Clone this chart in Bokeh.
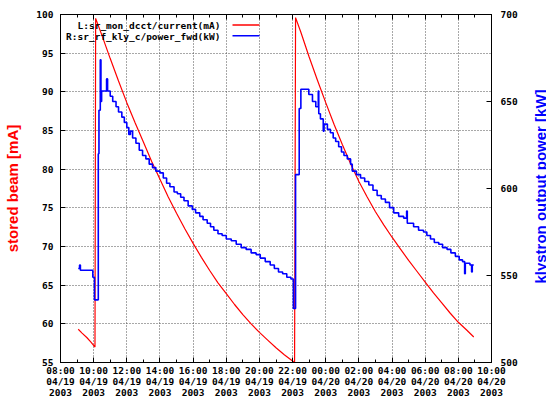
from math import pi
from bokeh.plotting import figure
from bokeh.layouts import row
from bokeh.models import Range1d, LinearAxis, FixedTicker, Label, BoxAnnotation
from bokeh.embed import file_html
from bokeh.resources import INLINE

# time axis: hours since 2003-04-19 08:00
x_tick_hours = [0, 2, 4, 6, 8, 10, 12, 14, 16, 18, 20, 22, 24, 26]
x_tick_labels = ["08:00\n04/19\n2003", "10:00\n04/19\n2003", "12:00\n04/19\n2003",
                 "14:00\n04/19\n2003", "16:00\n04/19\n2003", "18:00\n04/19\n2003",
                 "20:00\n04/19\n2003", "22:00\n04/19\n2003", "00:00\n04/20\n2003",
                 "02:00\n04/20\n2003", "04:00\n04/20\n2003", "06:00\n04/20\n2003",
                 "08:00\n04/20\n2003", "10:00\n04/20\n2003"]
left_ticks = [55, 60, 65, 70, 75, 80, 85, 90, 95, 100]
right_ticks = [500, 550, 600, 650, 700]

legend_current = "L:sr_mon_dcct/current(mA)"
legend_power = "R:sr_rf_kly_c/power_fwd(kW)"
left_title = "stored beam [mA]"
right_title = "klystron output power [kW]"

# stored beam current (mA)
current_hours = [1.07, 1.3, 1.6, 1.85, 2.08, 2.12, 2.5, 3.0, 3.5, 4.0, 4.5, 5.0, 5.5,
                 6.0, 6.5, 7.0, 7.5, 8.0, 8.5, 9.0, 9.5, 10.0, 10.5, 11.0, 11.5, 12.0,
                 12.5, 13.0, 13.5, 14.0, 14.12, 14.18, 14.5, 15.0, 15.5, 16.0, 16.5,
                 17.0, 17.5, 18.0, 18.5, 19.0, 19.5, 20.0, 20.5, 21.0, 21.5, 22.0,
                 22.5, 23.0, 23.5, 24.0, 24.5, 24.93]
current_mA = [59.3, 58.8, 58.2, 57.6, 57.0, 99.5, 97.3, 94.3, 91.4, 88.6, 86.0, 83.5, 81.0,
              78.7, 76.4, 74.3, 72.3, 70.4, 68.6, 66.9, 65.3, 63.9, 62.5, 61.2, 60.0, 58.9,
              57.9, 56.9, 56.0, 55.2, 55.0, 99.6, 97.7, 94.5, 91.5, 88.6, 85.8,
              83.2, 80.7, 78.4, 76.4, 74.5, 72.8, 71.2, 69.7, 68.2, 66.8, 65.4,
              64.0, 62.7, 61.4, 60.2, 59.2, 58.3]

# klystron forward power (kW), stepwise readings
power_hours = [1.07, 1.15, 1.20, 1.95, 2.05, 2.28, 2.32, 2.40, 2.44, 2.48, 2.78, 2.84,
               3.00, 3.15, 3.35, 3.50, 3.70, 3.85, 4.00, 4.12, 4.22, 4.35, 4.55, 4.75,
               4.95, 5.15, 5.35, 5.55, 5.75, 6.00, 6.20, 6.40, 6.60, 6.85, 7.05, 7.25,
               7.45, 7.70, 7.95, 8.15, 8.40, 8.60, 8.85, 9.05, 9.25, 9.50, 9.75, 10.00,
               10.30, 10.60, 10.90, 11.20, 11.50, 11.80, 12.05, 12.35, 12.65, 12.90,
               13.15, 13.40, 13.65, 13.90, 14.05, 14.18, 14.40, 14.50, 14.98, 15.20,
               15.40, 15.55, 15.58, 15.68, 15.85, 15.90, 16.10, 16.28, 16.45, 16.60,
               16.78, 16.95, 17.10, 17.30, 17.50, 17.60, 17.85, 18.10, 18.35, 18.60,
               18.85, 19.10, 19.35, 19.60, 19.85, 20.10, 20.40, 20.70, 20.88, 20.92,
               21.30, 21.60, 21.90, 22.10, 22.32, 22.55, 22.82, 23.05, 23.32, 23.55,
               23.82, 24.05, 24.25, 24.38, 24.42, 24.70, 24.80, 24.84, 24.93]
power_kW = [554, 556, 553, 549, 536, 620, 645, 674, 650, 656, 663, 656,
            653, 650, 647, 644, 641, 638, 635, 631, 633, 629, 626, 622,
            619, 617, 614, 612, 610, 609, 606, 603, 601, 598, 597, 595,
            593, 590, 588, 586, 584, 582, 580, 578, 576, 574, 573, 571,
            570, 568, 566, 565, 563, 562, 560, 558, 556, 554,
            552, 551, 549, 548, 531, 608, 646, 657, 654, 650,
            647, 656, 643, 640, 633, 637, 634, 632, 629, 627,
            624, 621, 619, 617, 614, 610, 608, 606, 604, 602,
            599, 596, 594, 592, 589, 586, 584, 583, 587, 580,
            578, 576, 575, 573, 571, 569, 568, 566, 565, 563,
            561, 559, 558, 551, 557, 556, 552, 556, 556]

MONO = "DejaVu Sans Mono"
SANS = "Liberation Sans"
TICK_SIZE = "9.5px"

W, H = 526, 400
BL, BR, BT, BB = 60, 35, 14, 38
FW, FH = W - BL - BR, H - BT - BB

p = figure(width=W, height=H, output_backend="svg", toolbar_location=None,
           x_range=Range1d(0, 26), y_range=Range1d(55, 100),
           min_border_left=BL, min_border_right=BR, min_border_top=BT, min_border_bottom=BB)
p.extra_y_ranges = {"kw": Range1d(500, 700)}
p.outline_line_color = "black"
p.outline_line_width = 1
p.background_fill_color = "white"
p.border_fill_color = "white"

def style_axis(ax):
    ax.axis_line_color = "black"
    ax.major_tick_line_color = "black"
    ax.minor_tick_line_color = "black"
    ax.major_tick_in = 5
    ax.major_tick_out = 0
    ax.minor_tick_in = 3
    ax.minor_tick_out = 0
    ax.major_label_text_font = MONO
    ax.major_label_text_font_style = "bold"
    ax.major_label_text_font_size = TICK_SIZE
    ax.major_label_text_color = "black"

xa = p.xaxis[0]
xa.ticker = FixedTicker(ticks=x_tick_hours, minor_ticks=list(range(0, 27)))
xa.major_label_overrides = {h: lab for h, lab in zip(x_tick_hours, x_tick_labels)}
style_axis(xa)
xa.major_label_standoff = 2
xa.major_label_text_line_height = 1.0

ya = p.yaxis[0]
ya.ticker = FixedTicker(ticks=left_ticks, minor_ticks=[])
style_axis(ya)
ya.major_label_standoff = 7
ya.axis_label = left_title
ya.axis_label_text_color = "#ff0000"
ya.axis_label_text_font = SANS
ya.axis_label_text_font_style = "bold"
ya.axis_label_text_font_size = "15px"
ya.axis_label_standoff = 12

yr = LinearAxis(y_range_name="kw", ticker=FixedTicker(ticks=right_ticks, minor_ticks=[]))
style_axis(yr)
yr.major_label_standoff = 9
p.add_layout(yr, "right")

xt = LinearAxis(ticker=FixedTicker(ticks=x_tick_hours, minor_ticks=list(range(0, 27))))
style_axis(xt)
xt.major_label_overrides = {h: "" for h in x_tick_hours}
xt.major_label_standoff = 0
p.add_layout(xt, "above")

for g in (p.xgrid[0], p.ygrid[0]):
    g.grid_line_color = "#505050"
    g.grid_line_dash = "1 2"
    g.grid_line_width = 1

p.line(current_hours, current_mA, line_color="#ff0000", line_width=1.2)
p.step(power_hours, power_kW, mode="after", line_color="#0000ff", line_width=1.6,
       y_range_name="kw")

# gnuplot-style key: text right-aligned, sample line to the right
key_rows = [(legend_current, "#ff0000"), (legend_power, "#0000ff")]
for i, (txt, col) in enumerate(key_rows):
    yc = FH - 11.0 - i * 10.6
    p.add_layout(Label(x=160, y=yc, x_units="screen", y_units="screen", text=txt,
                       text_align="right", text_baseline="middle", text_font=MONO,
                       text_font_style="bold", text_font_size=TICK_SIZE, text_color="black"))
    yb = FH - 10.5 - i * 10.8
    p.add_layout(BoxAnnotation(left=172, right=199, bottom=yb - 0.75, top=yb + 0.75,
                               left_units="screen", right_units="screen",
                               bottom_units="screen", top_units="screen",
                               fill_color=col, fill_alpha=1, line_color=None))

# narrow strip carrying the right-hand axis title (reads bottom-to-top)
W2 = 546 - W
p2 = figure(width=W2, height=H, output_backend="svg", toolbar_location=None,
            x_axis_type=None, y_axis_type=None,
            min_border_left=0, min_border_right=0, min_border_top=0, min_border_bottom=0)
p2.outline_line_color = None
p2.background_fill_color = "white"
p2.border_fill_color = "white"
p2.add_layout(Label(x=14, y=H - 224, x_units="screen", y_units="screen",
                    text=right_title, angle=pi / 2, text_align="center",
                    text_baseline="middle", text_font=SANS, text_font_style="bold",
                    text_font_size="15px", text_color="#0000ff"))

layout = row(p, p2, spacing=0)
open("out.html", "w").write(file_html(layout, INLINE))
